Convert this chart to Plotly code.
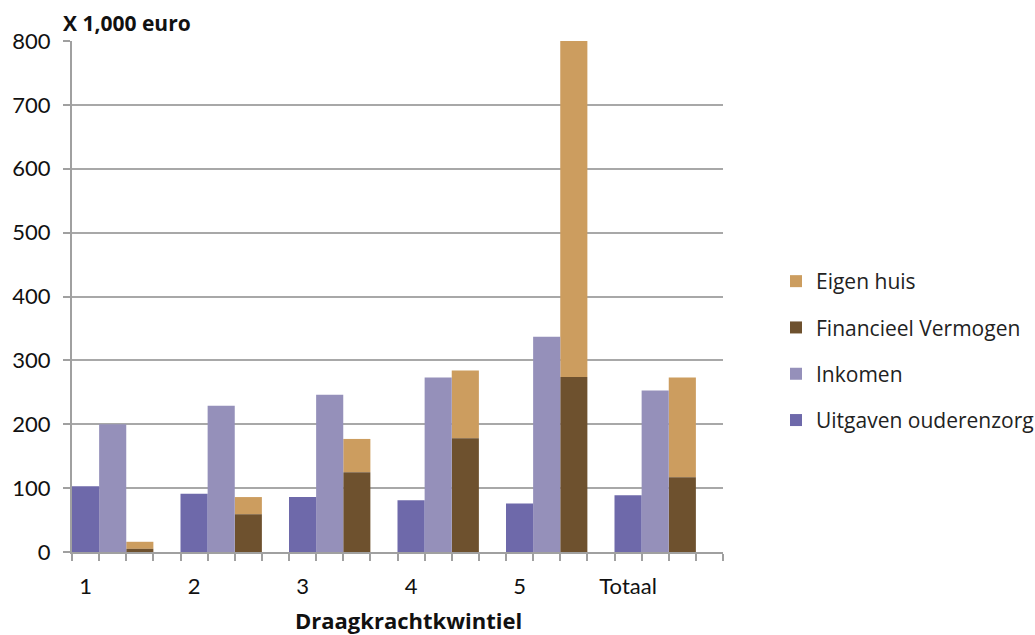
import plotly.graph_objects as go

groups = ["1", "2", "3", "4", "5", "Totaal"]
uitgaven = [103, 91, 86, 81, 76, 89]
inkomen = [200, 229, 246, 273, 337, 253]
financieel = [5, 59, 125, 178, 274, 117]
eigen_huis = [11, 27, 52, 106, 526, 156]

colors = {
    "Uitgaven ouderenzorg": "#6E69AA",
    "Inkomen": "#9590BA",
    "Financieel Vermogen": "#6E512E",
    "Eigen huis": "#CC9D5F",
}

slot = 4
n = len(groups)
x_u = [slot * i + 0.5 for i in range(n)]
x_i = [slot * i + 1.5 for i in range(n)]
x_s = [slot * i + 2.5 for i in range(n)]

fig = go.Figure()
fig.add_bar(x=x_s, y=eigen_huis, width=1, name="Eigen huis", base=financieel,
            marker=dict(color=colors["Eigen huis"], line=dict(width=0)), legendgroup="a")
fig.add_bar(x=x_s, y=financieel, width=1, name="Financieel Vermogen",
            marker=dict(color=colors["Financieel Vermogen"], line=dict(width=0)), legendgroup="b")
fig.add_bar(x=x_i, y=inkomen, width=1, name="Inkomen",
            marker=dict(color=colors["Inkomen"], line=dict(width=0)), legendgroup="c")
fig.add_bar(x=x_u, y=uitgaven, width=1, name="Uitgaven ouderenzorg",
            marker=dict(color=colors["Uitgaven ouderenzorg"], line=dict(width=0)), legendgroup="d")

fig.update_layout(
    width=1035, height=635,
    margin=dict(l=72, r=312, t=41, b=83, autoexpand=False),
    plot_bgcolor="white", paper_bgcolor="white",
    barmode="overlay",
    font=dict(family="Lato, Carlito, sans-serif", size=22, color="#111111"),
    legend=dict(
        x=(776 - 72) / 651, xanchor="left", y=(552 - 351) / 511, yanchor="middle",
        traceorder="grouped", tracegroupgap=16,
        font=dict(family="Open Sans, sans-serif", size=21, color="#222222"),
        itemwidth=30,
    ),
    showlegend=True,
)

fig.update_xaxes(
    range=[0, slot * n],
    tickmode="array", tickvals=x_u, ticktext=groups,
    ticks="", ticklabelstandoff=14,
    showgrid=False, zeroline=False,
    showline=True, linecolor="#A0A0A0", linewidth=2,
    minor=dict(tickmode="linear", tick0=0, dtick=1, ticks="outside", ticklen=7,
               tickcolor="#A0A0A0", tickwidth=2, showgrid=False),
    fixedrange=True,
)
fig.update_yaxes(
    range=[0, 800], dtick=100,
    ticks="outside", ticklen=7, tickcolor="#A0A0A0", tickwidth=2,
    showgrid=True, gridcolor="#A8A8A8", gridwidth=2,
    zeroline=False, showline=True, linecolor="#A0A0A0", linewidth=2,
    ticklabelstandoff=8,
)

fig.add_annotation(text="<b>X 1,000 euro</b>", xref="paper", yref="paper",
                   x=0, y=1, xshift=-11, yshift=2, xanchor="left", yanchor="bottom",
                   showarrow=False, font=dict(size=21, family="Open Sans, sans-serif", color="#111111"))
fig.add_annotation(text="<b>Draagkrachtkwintiel</b>", xref="paper", yref="paper",
                   x=(408 - 72) / 651, y=0, yshift=-68, xanchor="center", yanchor="middle",
                   showarrow=False, font=dict(size=22, family="Open Sans, sans-serif", color="#111111"))

fig.write_html("out.html")
